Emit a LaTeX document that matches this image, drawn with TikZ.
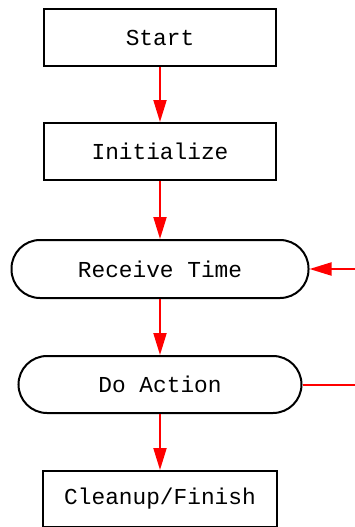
\documentclass[tikz,border=0pt]{standalone}
\usepackage{fontspec}
\setmonofont{Liberation Mono}
\usetikzlibrary{arrows.meta,positioning}

\begin{document}
\begin{tikzpicture}[x=1pt, y=1pt,
  every node/.style={font=\ttfamily\fontsize{22.8}{24}\selectfont},
  stepbox/.style={draw, line width=2pt, minimum height=57pt, inner sep=0pt},
  loopbox/.style={stepbox, rounded corners=28.5pt},
  flow/.style={draw=red, line width=2pt, -{Triangle[length=22pt,width=13pt]}}]
  % page frame, also clips the back edge
  \clip (0,0) rectangle (355,-527);
  \useasboundingbox (0,0) rectangle (355,-527);
  \node[stepbox, minimum width=232pt] (start) at (160,-37.5) {Start};
  \node[stepbox, minimum width=232pt] (init) at (160,-151.5) {Initialize};
  \node[loopbox, minimum width=297pt, minimum height=58pt] (recv) at (160,-269) {Receive Time};
  \node[loopbox, minimum width=283pt] (act) at (160,-384.5) {Do Action};
  \node[stepbox, minimum width=234pt, minimum height=56pt] (fin) at (160,-499) {Cleanup/Finish};
  % main chain
  \draw[flow] (start) -- (init);
  \draw[flow] (init) -- (recv);
  \draw[flow] (recv) -- (act);
  \draw[flow] (act) -- (fin);
  % back edge, runs off the page
  \draw[flow] (act.east) -- ++(80,0) |- (recv.east);
\end{tikzpicture}
\end{document}
